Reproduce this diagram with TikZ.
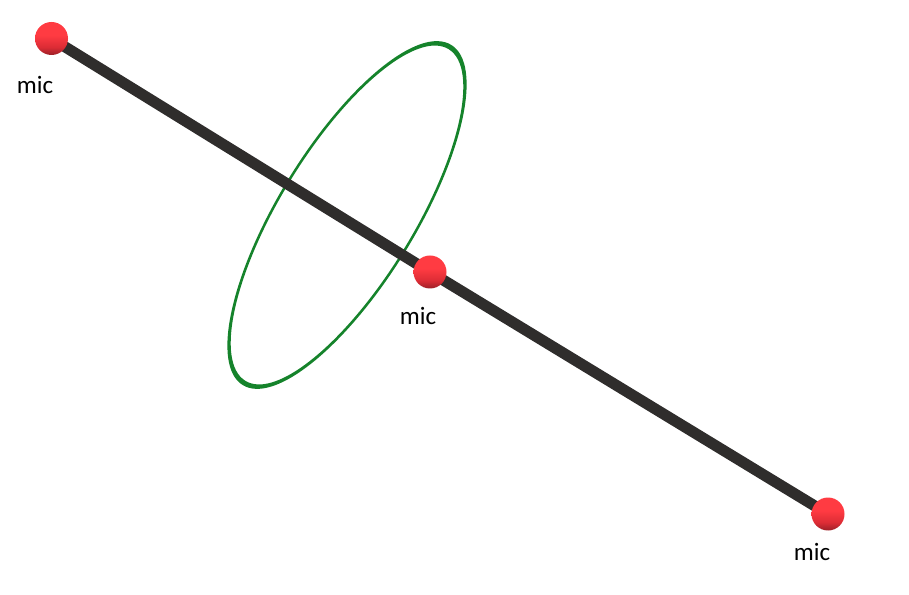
\documentclass[tikz,border=0pt]{standalone}
\usepackage{fontspec}
\setmainfont{Carlito}
\usetikzlibrary{backgrounds}

\definecolor{micred}{HTML}{FF3B42}
\definecolor{micmid}{HTML}{DC2C35}
\definecolor{micdark}{HTML}{9C2028}
\definecolor{barcol}{HTML}{2F2D2C}
\definecolor{ringcol}{HTML}{15832B}

% Ball shade: dark only near the bottom
\pgfdeclareverticalshading{micball}{100bp}{color(0bp)=(micdark); color(25bp)=(micdark); color(37bp)=(micmid); color(55bp)=(micred); color(100bp)=(micred)}

\tikzset{
  mic/.style={circle, inner sep=0pt, minimum size=33pt, shading=micball},
  miclabel/.style={font=\fontsize{25}{25}\selectfont, text=black, inner sep=0pt}
}

\begin{document}
\begin{tikzpicture}[x=1pt, y=1pt]
    \useasboundingbox (0,0) rectangle (909,594);

    % The three balls
    \node[mic] (micA) at (51.5,555.5) {};
    \node[mic] (micB) at (430,322) {};
    \node[mic] (micC) at (828,80) {};

    % Their labels
    \node[miclabel] (labelA) at (35,509) {mic};
    \node[miclabel] (labelB) at (418,278) {mic};
    \node[miclabel] (labelC) at (812,42) {mic};

    \begin{pgfonlayer}{background}
    % Green ring, thicker at the ends of the long axis
    \fill[ringcol, even odd rule, rotate around={58.5:(347,379)}]
      (347,379) ellipse (199.5pt and 68.8pt)
      (347,379) ellipse (194.5pt and 66.3pt);

    % Rod through all three balls
    \draw[barcol, line width=11pt] (micA.center) -- (micB.center) -- (micC.center);
    \end{pgfonlayer}
\end{tikzpicture}
\end{document}
